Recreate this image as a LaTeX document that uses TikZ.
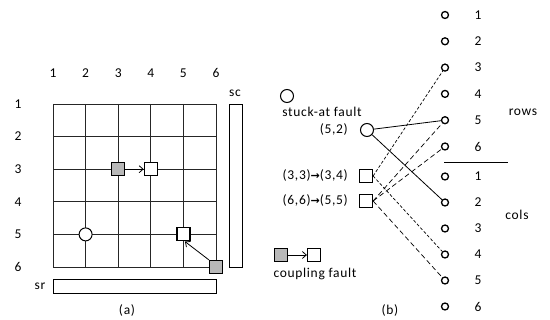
\documentclass[tikz,border=0pt]{standalone}
\usepackage{fontspec}
\setmainfont[LetterSpace=5]{Carlito}
\newfontfamily\symfont{DejaVu Sans}
\usetikzlibrary{arrows.meta}
\begin{document}
\begin{tikzpicture}[x=1pt,y=-1pt,
  lbl/.style={font=\fontsize{13.5}{15}\selectfont, inner sep=0pt},
  gsq/.style={draw, fill=black!28, minimum size=13pt, inner sep=0pt, line width=1.2pt},
  wsq/.style={draw, fill=white, minimum size=13pt, inner sep=0pt, line width=1.2pt},
  fcirc/.style={draw, fill=white, circle, minimum size=13pt, inner sep=0pt, line width=1pt},
  dot/.style={draw, circle, minimum size=7pt, inner sep=0pt, line width=1.3pt},
  bar/.style={draw, line width=0.8pt, inner sep=0pt},
  gridline/.style={line width=0.9pt, black!85},
  carrow/.style={-{Straight Barb[length=4pt,width=7pt]}, line width=0.8pt},
  shortdash/.style={dash pattern=on 3pt off 2pt, line width=0.7pt},
  longdash/.style={dash pattern=on 5pt off 3pt, line width=0.7pt},
  solidcon/.style={line width=0.8pt},
]
\useasboundingbox (0,0) rectangle (550,320);
% ---------- (a) ----------
\foreach \i [evaluate=\i as \n using int(\i+1)] in {0,...,5} {
  \draw[gridline] (53+32.6*\i,104) -- (53+32.6*\i,267);
  \draw[gridline] (53,104+32.6*\i) -- (216,104+32.6*\i);
  \node[lbl] (cl\n) at (53+32.6*\i,73) {\n};
  \node[lbl] (rl\n) at (18,104+32.6*\i) {\n};
}
\node[gsq] (g33) at (118.2,169.2) {};
\node[wsq] (w34) at (150.8,169.2) {};
\node[fcirc] (c52) at (85.6,234.4) {};
\node[wsq] (w55) at (183.4,234.4) {};
\node[gsq] (g66) at (216,267) {};
\draw[carrow] (g33) -- (w34);
\draw[carrow] (g66.north west) -- ([xshift=1.5pt]w55.south);
\node[bar, minimum width=13pt, minimum height=163pt] (sc) at (235.5,185.5) {};
\node[lbl] (sclbl) at (235,93) {sc};
\node[bar, minimum width=163pt, minimum height=14pt] (sr) at (134.5,286) {};
\node[lbl] (srlbl) at (40,286) {sr};
\node[lbl] (la) at (127,311) {(a)};
% ---------- (b) ----------
\foreach \i in {1,...,6} {
  \node[dot] (r\i) at (445,15+26.3*\i-26.3) {};
  \node[lbl] (rn\i) at (478,15+26.3*\i-26.3) {\i};
  \node[dot] (k\i) at (445,176.5+26*\i-26) {};
  \node[lbl] (kn\i) at (478,176.5+26*\i-26) {\i};
}
\draw[line width=0.9pt] (444,162.7) -- (508,162.7);
\node[lbl] (rows) at (523,112) {rows};
\node[lbl] (cols) at (517,215) {cols};
\node[fcirc] (lc) at (287,96) {};
\node[lbl] (lct) at (322,112) {stuck-at fault};
\node[fcirc] (f52) at (367,130) {};
\node[lbl, anchor=east] (f52t) at (348,130) {(5,2)};
\node[wsq] (s1) at (366,176) {};
\node[lbl, anchor=east] (s1t) at (348,176) {(3,3){\symfont\bfseries\fontsize{11}{13}\selectfont →}(3,4)};
\node[wsq] (s2) at (366,201) {};
\node[lbl, anchor=east] (s2t) at (348,201) {(6,6){\symfont\bfseries\fontsize{11}{13}\selectfont →}(5,5)};
\node[gsq] (lg) at (281,255) {};
\node[wsq] (lw) at (314,255) {};
\draw[carrow] (lg) -- (lw);
\node[lbl] (lcf) at (315,274) {coupling fault};
\node[lbl] (lb) at (390,311) {(b)};
\draw[solidcon] (f52) -- (r5);
\draw[solidcon] (f52) -- (k2);
\draw[shortdash] (s1.east) -- (r3);
\draw[shortdash] (s1.east) -- (k4);
\draw[longdash] (s2.east) -- (r5);
\draw[longdash] (s2.east) -- (r6);
\draw[longdash] (s2.east) -- (k5);
\end{tikzpicture}
\end{document}
